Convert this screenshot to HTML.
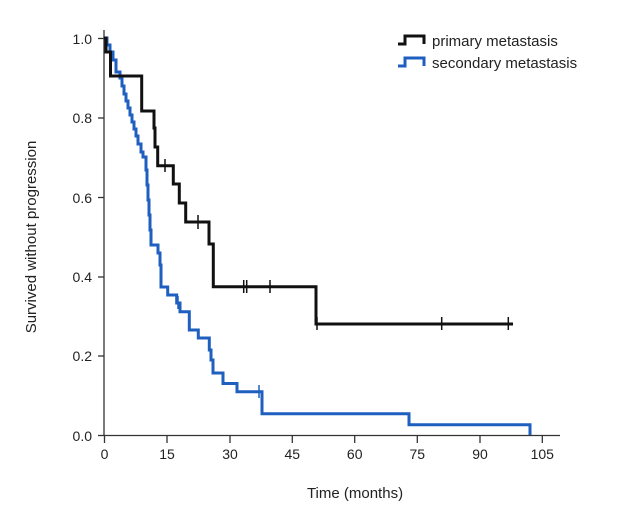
<!DOCTYPE html>
<html><head><meta charset="utf-8"><style>
html,body{margin:0;padding:0;background:#fff;}
svg{display:block;font-family:"Liberation Sans",Arial,sans-serif;}
</style></head><body>
<svg width="640" height="520" viewBox="0 0 640 520">
<g stroke="#333" stroke-width="1.3" fill="none">
<line x1="104" y1="30" x2="104" y2="436"/>
<line x1="104" y1="435.5" x2="560" y2="435.5"/>
<line x1="98" y1="38.5" x2="104" y2="38.5"/>
<line x1="98" y1="118" x2="104" y2="118"/>
<line x1="98" y1="197.5" x2="104" y2="197.5"/>
<line x1="98" y1="277" x2="104" y2="277"/>
<line x1="98" y1="356" x2="104" y2="356"/>
<line x1="98" y1="435.5" x2="104" y2="435.5"/>
<line x1="104.5" y1="436" x2="104.5" y2="443"/>
<line x1="167" y1="436" x2="167" y2="443"/>
<line x1="230" y1="436" x2="230" y2="443"/>
<line x1="292.3" y1="436" x2="292.3" y2="443"/>
<line x1="354.7" y1="436" x2="354.7" y2="443"/>
<line x1="417.3" y1="436" x2="417.3" y2="443"/>
<line x1="480" y1="436" x2="480" y2="443"/>
<line x1="542.3" y1="436" x2="542.3" y2="443"/>
</g>
<g font-size="14" fill="#222" text-anchor="end">
<text x="92" y="44">1.0</text>
<text x="92" y="123">0.8</text>
<text x="92" y="203">0.6</text>
<text x="92" y="282">0.4</text>
<text x="92" y="361">0.2</text>
<text x="92" y="441">0.0</text>
</g>
<g font-size="14" fill="#222" text-anchor="middle">
<text x="104.5" y="459">0</text>
<text x="167" y="459">15</text>
<text x="230" y="459">30</text>
<text x="292.3" y="459">45</text>
<text x="354.7" y="459">60</text>
<text x="417.3" y="459">75</text>
<text x="480" y="459">90</text>
<text x="542.3" y="459">105</text>
<text x="355" y="498" font-size="15">Time (months)</text>
<text transform="translate(36,237) rotate(-90)" font-size="15">Survived without progression</text>
</g>
<!-- blue -->
<polyline fill="none" stroke="#1f5fbf" stroke-width="3" points="104,38 107,38 107,45 110,45 110,52 113,52 113,60 116,60 116,72 120,72 120,78 122,78 122,86 124,86 124,94 126,94 126,101 128,101 128,108 130,108 130,115 132,115 132,122 134,122 134,129 136,129 136,136 138,136 138,144 141,144 141,152 143,152 143,157 146,157 146,170 147,170 147,185 148,185 148,200 149,200 149,215 150,215 150,230 151,230 151,245 158,245 158,253 160,253 160,265 161,265 161,287 167.7,287 167.7,295 176.7,295 176.7,303 180,303 180,311.7 189.3,311.7 189.3,330 198.3,330 198.3,338 209.3,338 209.3,350 211,350 211,360 213,360 213,373 223,373 223,383.5 237,383.5 237,391.7 262,391.7 262,413.7 409,413.7 409,424.7 530,424.7 530,435"/>
<!-- black -->
<polyline fill="none" stroke="#111" stroke-width="3" points="104,38 106,38 106,52 110.5,52 110.5,76 141.7,76 141.7,111 154,111 154,128 155,128 155,147 157.7,147 157.7,165.7 173.3,165.7 173.3,184 179.3,184 179.3,203 185.7,203 185.7,222 209,222 209,244 213.3,244 213.3,286.7 316,286.7 316,324 513,324"/>
<g stroke="#111" stroke-width="1.5">
<line x1="165" y1="159" x2="165" y2="172"/>
<line x1="198" y1="215" x2="198" y2="229"/>
<line x1="243.7" y1="280" x2="243.7" y2="293"/>
<line x1="246.7" y1="280" x2="246.7" y2="293"/>
<line x1="270" y1="280" x2="270" y2="293"/>
<line x1="317" y1="317" x2="317" y2="330"/>
<line x1="441.7" y1="317" x2="441.7" y2="330"/>
<line x1="508.3" y1="317" x2="508.3" y2="330"/>
</g>
<g stroke="#1f5fbf" stroke-width="1.5">
<line x1="178" y1="296" x2="178" y2="309"/>
<line x1="259" y1="385" x2="259" y2="398"/>
</g>
<!-- legend -->
<polyline fill="none" stroke="#111" stroke-width="3" points="398,44 405,44 405,36 424,36 424,44"/>
<polyline fill="none" stroke="#1f5fbf" stroke-width="3" points="398,66 405,66 405,58 424,58 424,66"/>
<g font-size="15" fill="#222">
<text x="432" y="46">primary metastasis</text>
<text x="432" y="68">secondary metastasis</text>
</g>
</svg>
</body></html>
